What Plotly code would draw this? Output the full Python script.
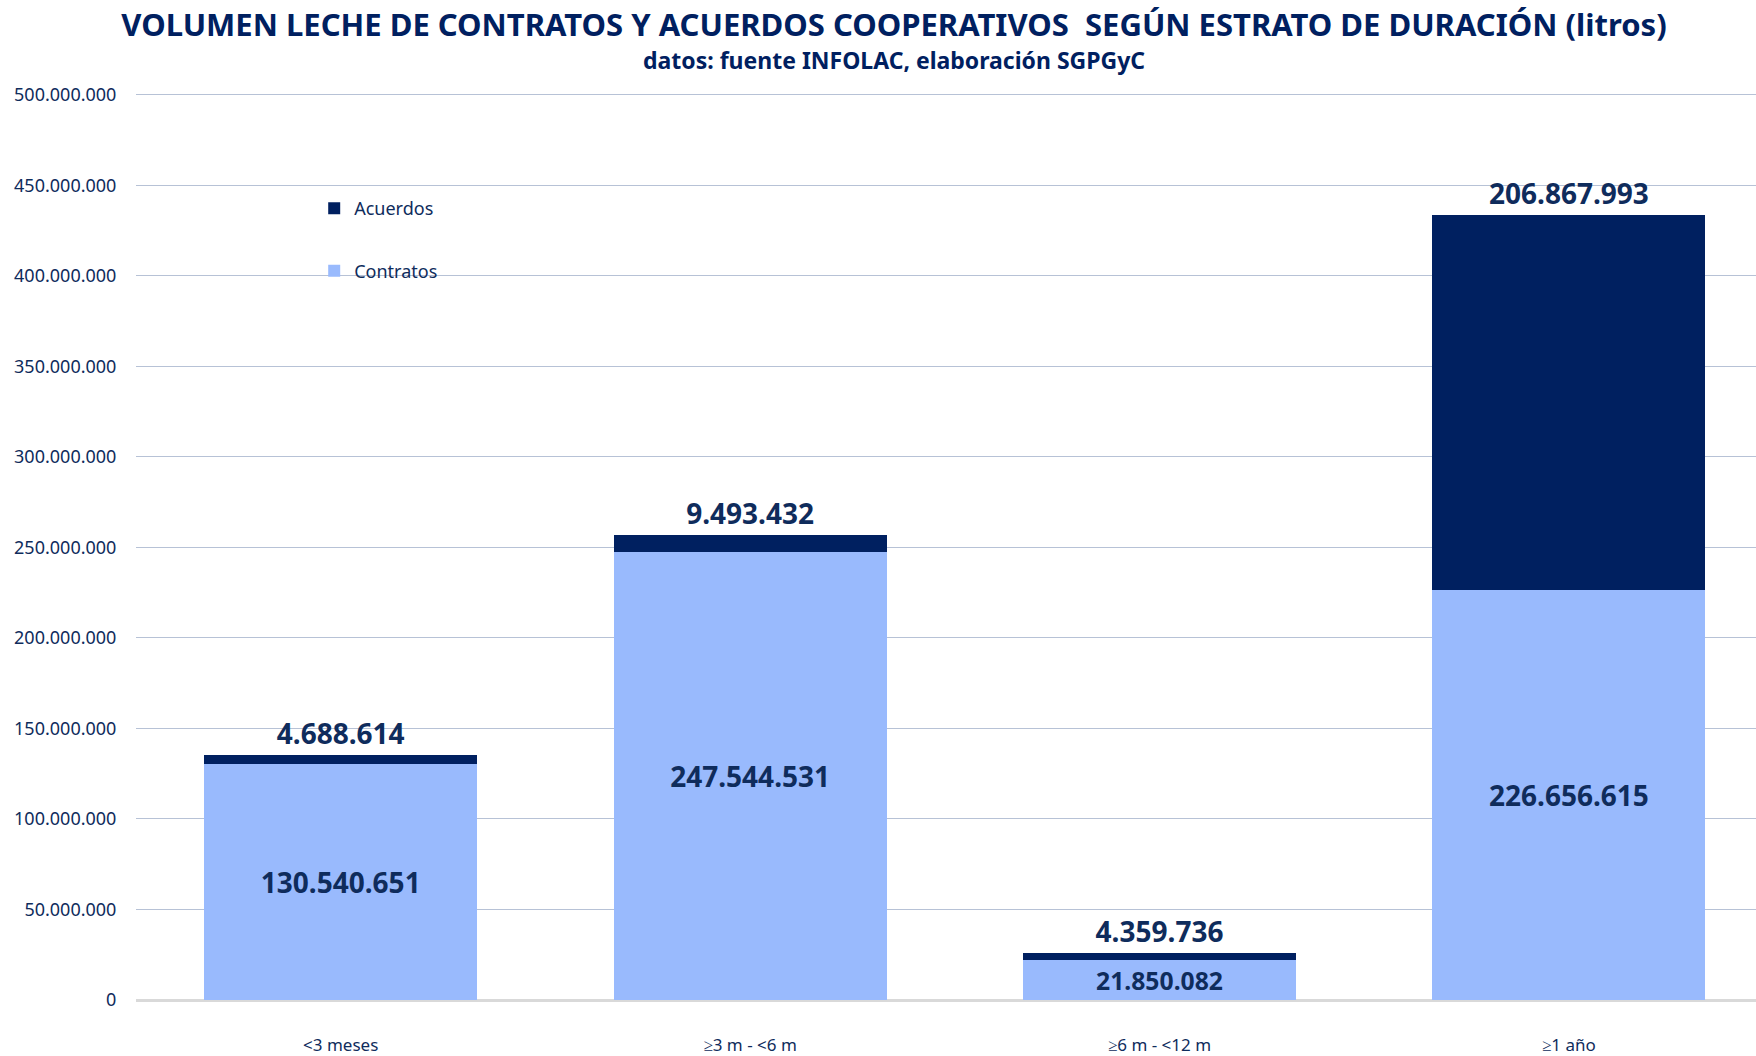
import plotly.graph_objects as go

categories = ["<3 meses", "≥3 m - <6 m", "≥6 m - <12 m", "≥1 año"]
contratos = [130540651, 247544531, 21850082, 226656615]
acuerdos = [4688614, 9493432, 4359736, 206867993]
y_ticks = [0, 50000000, 100000000, 150000000, 200000000, 250000000,
           300000000, 350000000, 400000000, 450000000, 500000000]

NAVY = "#002060"
LIGHT = "#99BAFD"
TXT = "#0f2c5c"
FONT = "Noto Sans"


def fmt(v):
    return f"{v:,}".replace(",", ".")


x_pos = list(range(len(categories)))

fig = go.Figure()
fig.add_trace(go.Bar(
    x=x_pos, y=contratos, name="Contratos",
    marker=dict(color=LIGHT, line=dict(width=0)),
    width=0.667,
    text=[fmt(v) for v in contratos],
    textposition="inside", insidetextanchor="middle",
    textfont=dict(size=28, color=TXT, family=FONT, weight="bold"),
    legendgroup="c", legendrank=2,
))
fig.add_trace(go.Bar(
    x=x_pos, y=acuerdos, name="Acuerdos",
    marker=dict(color=NAVY, line=dict(width=0)),
    width=0.667,
    text=[fmt(v) for v in acuerdos],
    textposition="outside",
    textfont=dict(size=28, color=TXT, family=FONT, weight="bold"),
    legendgroup="a", legendrank=1,
))

fig.update_layout(
    width=1756, height=1056,
    barmode="stack",
    plot_bgcolor="white", paper_bgcolor="white",
    font=dict(family=FONT, color=TXT),
    margin=dict(l=136, r=0, t=93, b=56),
    title=dict(
        text="VOLUMEN LECHE DE CONTRATOS Y ACUERDOS COOPERATIVOS  SEGÚN ESTRATO DE DURACIÓN (litros)",
        x=894 / 1756, xanchor="center", xref="container",
        y=1 - 25 / 1056, yanchor="middle", yref="container",
        font=dict(size=31, color=NAVY, family=FONT, weight="bold"),
    ),
    annotations=[dict(
        text="datos: fuente INFOLAC, elaboración SGPGyC",
        x=(894 - 136) / 1620, xref="paper", xanchor="center",
        y=(1056 - 60 - 56) / (1056 - 93 - 56), yref="paper", yanchor="middle",
        showarrow=False,
        font=dict(size=23, color=NAVY, family=FONT, weight="bold"),
    )],
    legend=dict(
        x=0.110, y=0.893, xanchor="left", yanchor="top",
        traceorder="grouped", tracegroupgap=36,
        bgcolor="rgba(0,0,0,0)",
        font=dict(size=18, color=TXT, family=FONT),
        itemwidth=30,
    ),
    showlegend=True,
)

fig.update_xaxes(
    tickvals=x_pos, ticktext=categories,
    range=[-0.5, 3.457],
    showgrid=False, zeroline=False, showline=False,
    ticks="outside", ticklen=30, tickcolor="rgba(0,0,0,0)",
    tickfont=dict(size=17, color=TXT, family=FONT),
)
fig.update_yaxes(
    range=[0, 501000000], tickvals=y_ticks,
    ticktext=[fmt(v) for v in y_ticks],
    showgrid=True, gridcolor="#b7c2d6", gridwidth=1.3,
    zeroline=True, zerolinecolor="#d9d9d9", zerolinewidth=3,
    showline=False, ticks="outside", ticklen=15, tickcolor="rgba(0,0,0,0)",
    tickfont=dict(size=18, color=TXT, family=FONT),
)

fig.write_html("out.html", config={"displayModeBar": False},
               post_script="document.body.style.margin='0';")
